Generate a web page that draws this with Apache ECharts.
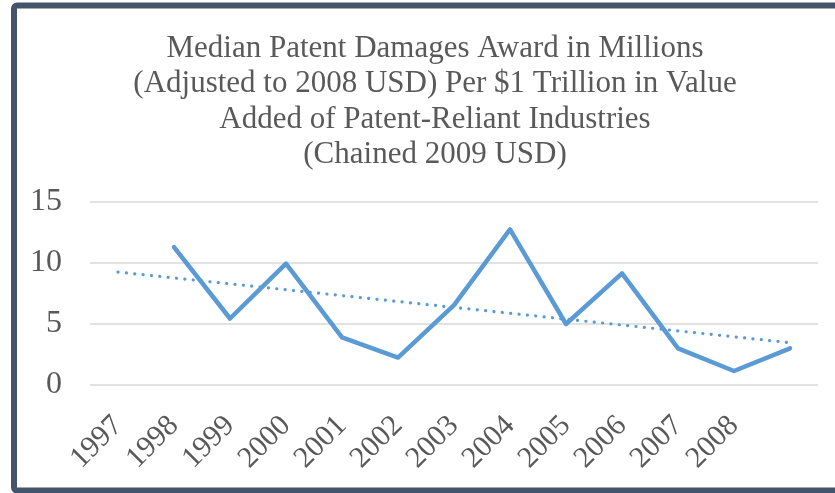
<!DOCTYPE html>
<html>
<head>
<meta charset="utf-8">
<script src="https://cdn.jsdelivr.net/npm/echarts@6/dist/echarts.min.js"></script>
<style>html,body{margin:0;padding:0;background:#fff;}#c{width:835px;height:493px;}</style>
</head>
<body>
<div id="c"></div>
<script>
var titleText = 'Median Patent Damages Award in Millions\n(Adjusted to 2008 USD) Per $1 Trillion in Value\nAdded of Patent-Reliant Industries\n(Chained 2009 USD)';
var categories = ['1997','1998','1999','2000','2001','2002','2003','2004','2005','2006','2007','2008',''];
var damages = [null, 11.3, 5.45, 9.95, 3.9, 2.25, 6.55, 12.75, 5.0, 9.15, 3.0, 1.15, 3.0];
var yTicks = {min: 0, max: 15, interval: 5};

// linear trendline (least squares) over the plotted points, drawn across all categories
var xs = [], ys = [];
damages.forEach(function (v, i) { if (v !== null) { xs.push(i); ys.push(v); } });
var mx = xs.reduce(function (a, b) { return a + b; }, 0) / xs.length;
var my = ys.reduce(function (a, b) { return a + b; }, 0) / ys.length;
var sxy = 0, sxx = 0;
xs.forEach(function (x, k) { sxy += (x - mx) * (ys[k] - my); sxx += (x - mx) * (x - mx); });
var slope = sxy / sxx, icpt = my - slope * mx;
var trend = categories.map(function (c, i) { return +(icpt + slope * i).toFixed(4); });

var serif = '"Liberation Serif", "Times New Roman", serif';
var chart = echarts.init(document.getElementById('c'));
chart.setOption({
  backgroundColor: '#ffffff',
  animation: false,
  title: {
    text: titleText,
    left: 430,
    top: 26,
    textAlign: 'center',
    textStyle: { fontFamily: serif, fontSize: 31, fontWeight: 'normal', color: '#595959', lineHeight: 35.5 }
  },
  graphic: [{
    type: 'rect',
    shape: { x: 14, y: 5.5, width: 900, height: 485, r: 3 },
    style: { fill: 'none', stroke: '#44546A', lineWidth: 6 },
    z: 100
  }],
  grid: { left: 90, right: 17, top: 202, bottom: 108, containLabel: false },
  xAxis: {
    type: 'category',
    data: categories,
    boundaryGap: true,
    axisLine: { show: false },
    axisTick: { show: false },
    axisLabel: { rotate: 45, interval: 0, margin: 36, fontFamily: serif, fontSize: 30, color: '#595959' }
  },
  yAxis: {
    type: 'value',
    min: yTicks.min, max: yTicks.max, interval: yTicks.interval,
    axisLine: { show: false },
    axisTick: { show: false },
    axisLabel: { margin: 28, fontFamily: serif, fontSize: 32, color: '#595959' },
    splitLine: { lineStyle: { color: '#D9D9D9', width: 1.5 } }
  },
  series: [{
    type: 'line',
    data: damages,
    symbol: 'none',
    lineStyle: { color: '#5B9BD5', width: 4.5, join: 'round', cap: 'round' },
    z: 3
  }, {
    type: 'line',
    data: trend,
    symbol: 'none',
    lineStyle: { color: '#5B9BD5', width: 3.2, type: [0.1, 8.3], cap: 'round' },
    z: 2
  }]
});
</script>
</body>
</html>
